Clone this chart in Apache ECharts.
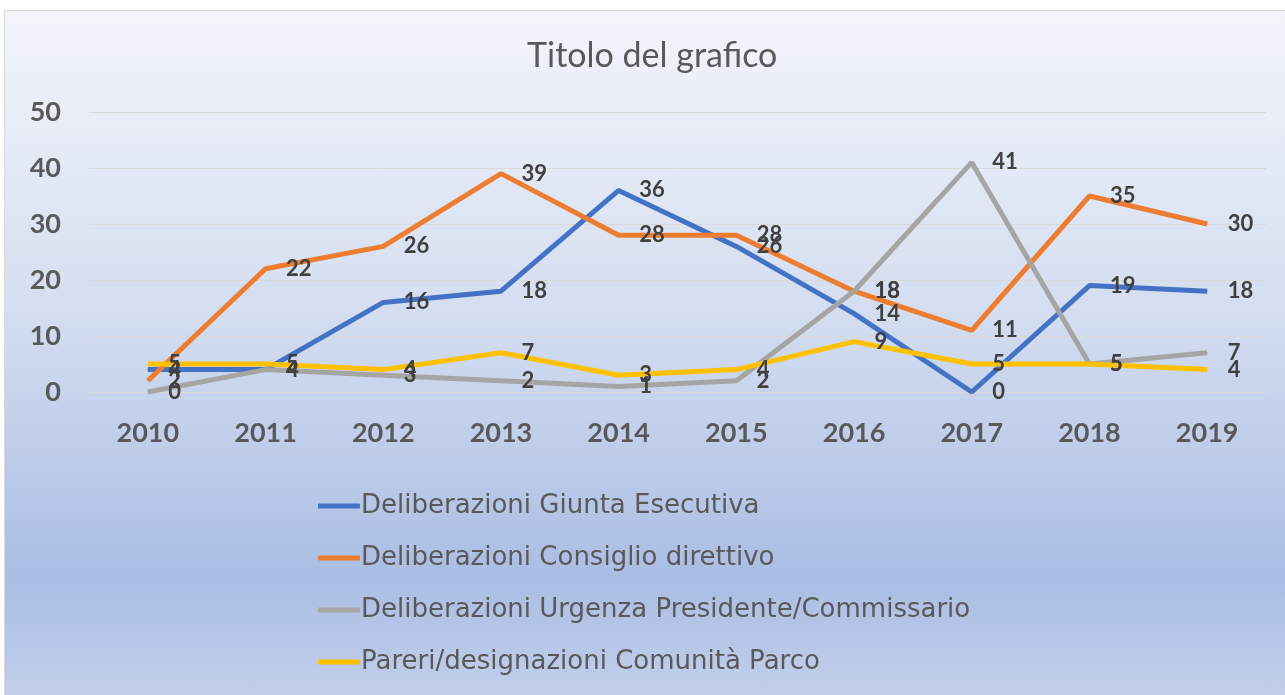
<!DOCTYPE html>
<html>
<head>
<meta charset="utf-8">
<script src="https://cdn.jsdelivr.net/npm/echarts@6/dist/echarts.min.js"></script>
<style>
  html, body { margin: 0; padding: 0; background: #fff; }
  #frame {
    position: absolute; left: 4px; top: 10px; width: 1290px; height: 690px;
    border: 1px solid #d9d9d9;
    background: linear-gradient(to bottom, #f3f5fb 0%, #d3ddf0 45%, #aabde3 82%, #c2d0eb 100%);
  }
  #chart { width: 1285px; height: 695px; position: absolute; left: 0; top: 0; }
</style>
</head>
<body>
<div id="frame"></div>
<div id="chart"></div>
<script>
const years = ["2010", "2011", "2012", "2013", "2014", "2015", "2016", "2017", "2018", "2019"];
const giunta = [4, 4, 16, 18, 36, 26, 14, 0, 19, 18];
const consiglio = [2, 22, 26, 39, 28, 28, 18, 11, 35, 30];
const urgenza = [0, 4, 3, 2, 1, 2, 18, 41, 5, 7];
const pareri = [5, 5, 4, 7, 3, 4, 9, 5, 5, 4];
const names = [
  "Deliberazioni Giunta Esecutiva",
  "Deliberazioni Consiglio direttivo",
  "Deliberazioni Urgenza Presidente/Commissario",
  "Pareri/designazioni Comunità Parco",
];
const colors = ["#4472c4", "#ed7d31", "#a5a5a5", "#ffc000"];
const font = "Lato, 'Open Sans', sans-serif";

function makeSeries(name, data, color) {
  return {
    name: name,
    type: "line",
    data: data,
    symbol: "circle",
    symbolSize: 1,
    color: color,
    itemStyle: { color: color },
    lineStyle: { width: 5, color: color },
    label: {
      show: true,
      position: "right",
      distance: 20,
      fontFamily: font,
      fontWeight: "bold",
      fontSize: 22,
      color: "#404040",
    },
  };
}

const chart = echarts.init(document.getElementById("chart"));
chart.setOption({
  backgroundColor: "transparent",
  animation: false,
  title: {
    text: "Titolo del grafico",
    left: 522,
    top: 34,
    textStyle: { fontFamily: font, fontSize: 34, fontWeight: "normal", color: "#595959" },
  },
  grid: { left: 89, right: 19, top: 112, bottom: 303 },
  xAxis: {
    type: "category",
    data: years,
    axisLine: { show: false },
    axisTick: { show: false },
    axisLabel: { fontFamily: font, fontSize: 27, fontWeight: "bold", color: "#595959", margin: 28 },
  },
  yAxis: {
    type: "value",
    min: 0,
    max: 50,
    interval: 10,
    axisLabel: { fontFamily: font, fontSize: 27, fontWeight: "bold", color: "#595959", margin: 28 },
    splitLine: { lineStyle: { color: "#d9d9d9", width: 1 } },
  },
  legend: {
    orient: "vertical",
    left: 313,
    top: 487,
    itemWidth: 42,
    itemHeight: 5,
    itemGap: 24,
    icon: "roundRect",
    textStyle: { fontFamily: "'DejaVu Sans', sans-serif", fontSize: 26, lineHeight: 28, color: "#595959", padding: [0, 0, 0, -4] },
    data: names,
  },
  series: [
    makeSeries(names[0], giunta, colors[0]),
    makeSeries(names[1], consiglio, colors[1]),
    makeSeries(names[2], urgenza, colors[2]),
    makeSeries(names[3], pareri, colors[3]),
  ],
});
</script>
</body>
</html>
